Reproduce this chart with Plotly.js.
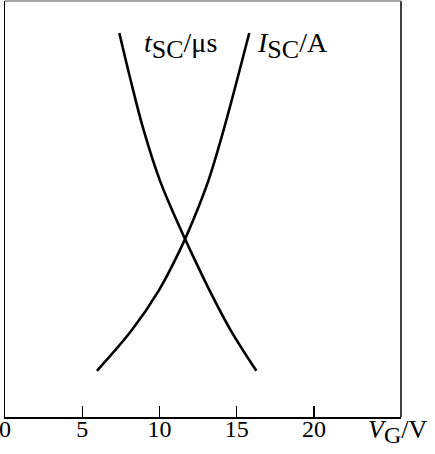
<!DOCTYPE html>
<html>
<head>
<meta charset="utf-8">
<script src="https://cdn.plot.ly/plotly-3.0.1.min.js"></script>
<style>html,body{margin:0;padding:0;background:#fff;}#chart{width:435px;height:454px;}</style>
</head>
<body>
<div id="chart"></div>
<script>
// Gate voltage V_G (V) and relative curve heights (arbitrary units, 0-100)
const tscVg = [7.40, 8.13, 8.97, 10.01, 11.09, 11.99, 13.23, 14.60, 16.27];
const tscVal = [92.3, 81.0, 69.0, 57.0, 47.4, 40.1, 30.5, 20.9, 11.1];
const iscVg = [5.95, 8.21, 9.97, 11.32, 12.19, 13.18, 14.15, 15.02, 15.81];
const iscVal = [11.1, 20.9, 30.5, 40.1, 47.4, 57.0, 69.0, 81.0, 92.3];
const xTicks = [0, 5, 10, 15, 20];
const xTickText = ["0", "5", "10", "15", "20"];

const font = "Liberation Serif, Times New Roman, serif";
const lineStyle = {color: "#000", width: 2.6, shape: "spline", smoothing: 1};

const data = [
  {x: tscVg, y: tscVal, mode: "lines", line: lineStyle, hoverinfo: "skip", name: "tSC"},
  {x: iscVg, y: iscVal, mode: "lines", line: lineStyle, hoverinfo: "skip", name: "ISC"}
];

function sub(s, size) { return "<sub><span style='font-size:" + size + "px'>" + s + "</span></sub>"; }

const layout = {
  width: 435, height: 454,
  margin: {l: 5, r: 34, t: 1, b: 37},
  paper_bgcolor: "#fff", plot_bgcolor: "#fff",
  showlegend: false,
  font: {family: font, size: 24, color: "#000"},
  xaxis: {
    range: [0, 25.63], tickvals: xTicks, ticktext: xTickText,
    ticks: "inside", ticklen: 11, tickwidth: 1.2, tickcolor: "#000",
    showline: true, linecolor: "#000", linewidth: 1.5,
    showgrid: false, zeroline: false, fixedrange: true,
    ticklabeloverflow: "allow", ticklabelstandoff: -10,
    tickfont: {family: font, size: 24, color: "#000"}
  },
  yaxis: {
    range: [0, 100], showticklabels: false, ticks: "",
    showline: true, linecolor: "#000", linewidth: 1.5, mirror: false,
    showgrid: false, zeroline: false, fixedrange: true
  },
  shapes: [
    {type: "line", xref: "paper", yref: "paper", x0: 1, x1: 1, y0: 0, y1: 1, line: {color: "#000", width: 1.5}},
    {type: "line", xref: "paper", yref: "paper", x0: 0, x1: 1, y0: 1, y1: 1, line: {color: "#888", width: 1.5}}
  ],
  annotations: [
    {text: "<i>t</i>" + sub("SC", 26) + "/μs", xref: "paper", yref: "paper", x: (180 - 5) / 396, y: (417 - 46) / 416,
     showarrow: false, xanchor: "center", yanchor: "middle", font: {family: font, size: 28, color: "#000"}},
    {text: "<i>I</i>" + sub("SC", 26) + "/A", xref: "paper", yref: "paper", x: (292 - 5) / 396, y: (417 - 46) / 416,
     showarrow: false, xanchor: "center", yanchor: "middle", font: {family: font, size: 28, color: "#000"}},
    {text: "<i>V</i>" + sub("G", 24) + "/V", xref: "paper", yref: "paper", x: (397 - 5) / 396, y: (417 - 431) / 416,
     showarrow: false, xanchor: "center", yanchor: "middle", font: {family: font, size: 26, color: "#000"}}
  ]
};

Plotly.newPlot("chart", data, layout, {displayModeBar: false, staticPlot: true});
</script>
</body>
</html>
